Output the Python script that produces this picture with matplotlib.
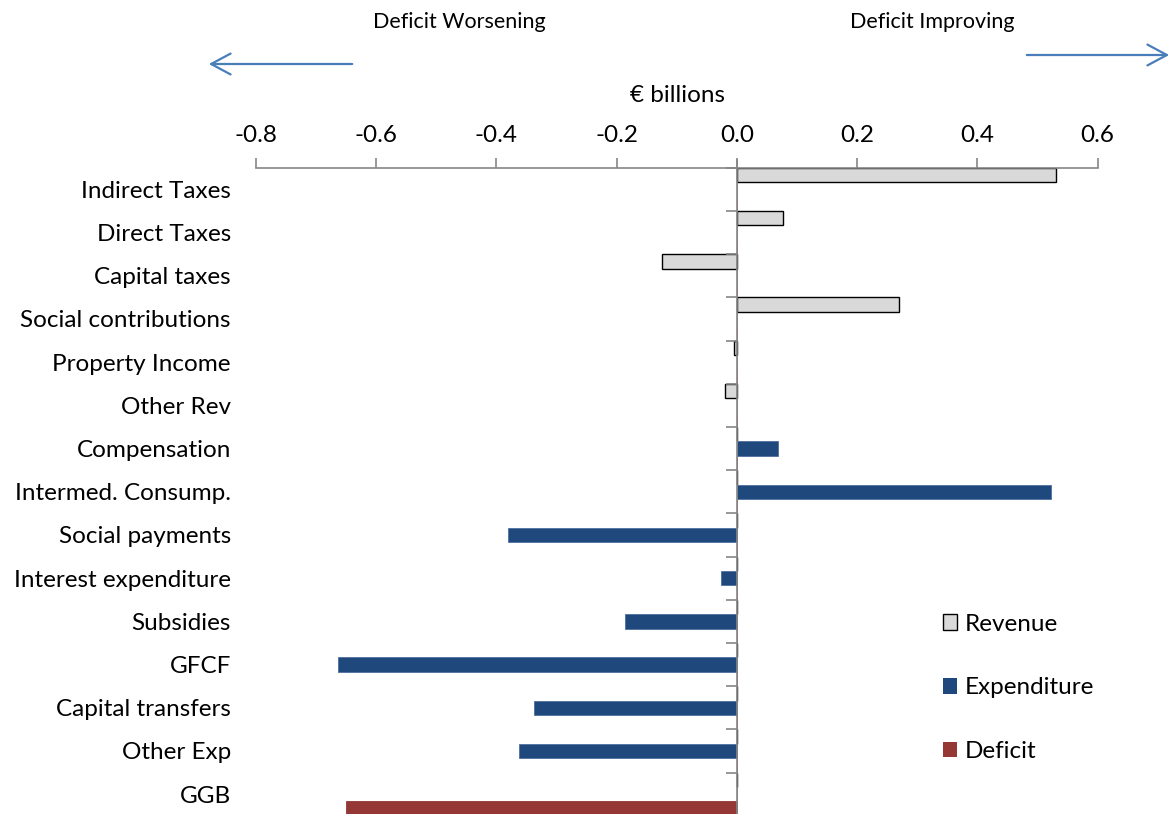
import numpy as np
import matplotlib.pyplot as plt
from matplotlib.patches import Patch, FancyArrowPatch

plt.rcParams['font.family'] = ['Lato', 'DejaVu Sans']
plt.rcParams['font.size'] = 17

# Change in general government balance by component, € billions
categories = ['Indirect Taxes', 'Direct Taxes', 'Capital taxes', 'Social contributions',
              'Property Income', 'Other Rev', 'Compensation', 'Intermed. Consump.',
              'Social payments', 'Interest expenditure', 'Subsidies', 'GFCF',
              'Capital transfers', 'Other Exp', 'GGB']
revenue = [0.531, 0.077, -0.124, 0.270, -0.005, -0.020,
           0, 0, 0, 0, 0, 0, 0, 0, 0]
expenditure = [0, 0, 0, 0, 0, 0,
               0.069, 0.523, -0.381, -0.026, -0.186, -0.664, -0.337, -0.362, 0]
deficit = [0, 0, 0, 0, 0, 0, 0, 0, 0, 0, 0, 0, 0, 0, -0.650]
xticks = [-0.8, -0.6, -0.4, -0.2, 0.0, 0.2, 0.4, 0.6]

grey = '#868686'
fs = 17.5
fig = plt.figure(figsize=(11.73, 8.14), dpi=100)
ax = fig.add_axes([0.2182, -0.0022, 0.7175, 0.7961])

y = np.arange(len(categories))
h = 1 / 3
ax.barh(y - h, revenue, height=h, color='#D9D9D9', edgecolor='black', linewidth=1.0)
ax.barh(y, expenditure, height=h, color='#1F497D', edgecolor='#4F6F9F', linewidth=0.6)
ax.barh(y + h, deficit, height=h, color='#953735', edgecolor='#953735', linewidth=0.6)

ax.set_xlim(-0.8, 0.6)
ax.set_ylim(len(categories) - 0.5, -0.5)

# value axis along the top
ax.xaxis.set_ticks_position('top')
ax.set_xticks(xticks)
ax.set_xticklabels([f'{v:.1f}' for v in xticks])
ax.tick_params(axis='x', direction='out', length=7, width=1.2, color=grey, pad=9, labelsize=fs)

# category labels on the left, divider ticks on a vertical axis at zero
ax.set_yticks(y)
ax.set_yticklabels(categories)
ax.set_yticks(np.arange(len(categories) + 1) - 0.5, minor=True)
ax.tick_params(axis='y', which='major', left=True, right=False, length=0, pad=18, labelsize=fs)
ax.tick_params(axis='y', which='minor', left=False, right=True, direction='in',
               length=8, width=1.2, color=grey)

for side in ['left', 'bottom']:
    ax.spines[side].set_visible(False)
ax.spines['top'].set_color(grey)
ax.spines['top'].set_linewidth(1.2)
ax.spines['right'].set_position(('data', 0))
ax.spines['right'].set_color(grey)
ax.spines['right'].set_linewidth(1.2)
ax.spines['right'].set_bounds(len(categories) - 0.5, -0.68)

handles = [Patch(facecolor='#D9D9D9', edgecolor='black', linewidth=1.0),
           Patch(facecolor='#1F497D'),
           Patch(facecolor='#953735')]
fig.legend(handles, ['Revenue', 'Expenditure', 'Deficit'], loc='upper left',
           bbox_to_anchor=(0.785, 0.273), frameon=False, fontsize=fs,
           handlelength=0.6, handleheight=0.6, handletextpad=0.3, labelspacing=1.76)

fig.text(677 / 1173, 1 - 95 / 814, '€ billions', ha='center', va='center', fontsize=fs)
fig.text(459 / 1173, 1 - 22 / 814, 'Deficit Worsening', ha='center', va='center', fontsize=15.5)
fig.text(932 / 1173, 1 - 22 / 814, 'Deficit Improving', ha='center', va='center', fontsize=15.5)

arrow = dict(arrowstyle='->,head_length=14,head_width=7.5', color='#4A7EBB', lw=1.6,
             transform=fig.transFigure)
fig.add_artist(FancyArrowPatch((355 / 1173, 1 - 64 / 814), (206 / 1173, 1 - 64 / 814), **arrow))
fig.add_artist(FancyArrowPatch((1024 / 1173, 1 - 55 / 814), (1172 / 1173, 1 - 55 / 814), **arrow))

fig.savefig('out.png', dpi=100)
